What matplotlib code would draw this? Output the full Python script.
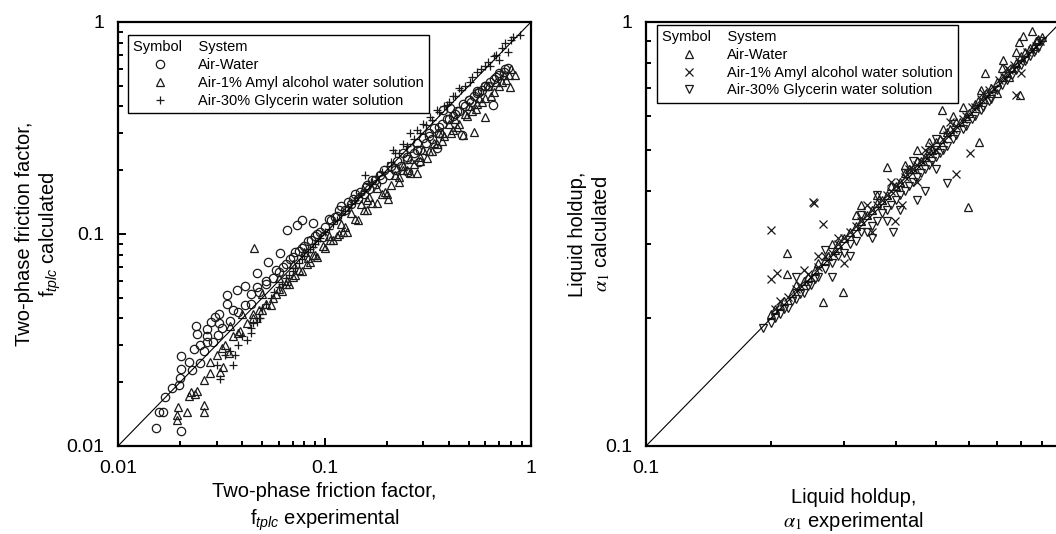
import matplotlib
matplotlib.use("Agg")
import matplotlib.pyplot as plt
import matplotlib.ticker as ticker

plt.rcParams['font.family'] = ['Liberation Sans', 'DejaVu Sans']
plt.rcParams['mathtext.fontset'] = 'custom'
plt.rcParams['mathtext.rm'] = 'Liberation Sans'
plt.rcParams['mathtext.it'] = 'Liberation Sans:italic'

# ---- left panel: two-phase friction factor (experimental, calculated)
aw_x = [0.0152, 0.0158, 0.0166, 0.0169, 0.0182, 0.0198, 0.0200, 0.0202, 0.0203, 0.0203,
        0.0227, 0.0233, 0.0239, 0.0240, 0.0249, 0.0269, 0.0271, 0.0281, 0.0295, 0.0305,
        0.0308, 0.0336, 0.0338, 0.0376, 0.0412, 0.0469, 0.0531, 0.0609, 0.022, 0.026,
        0.029, 0.032, 0.035, 0.038, 0.041, 0.044, 0.048, 0.052, 0.056, 0.060,
        0.065, 0.070, 0.075, 0.080, 0.086, 0.092, 0.100, 0.108, 0.115, 0.125,
        0.135, 0.145, 0.155, 0.165, 0.178, 0.190, 0.205, 0.220, 0.235, 0.250,
        0.270, 0.290, 0.310, 0.330, 0.360, 0.376, 0.404, 0.420, 0.450, 0.480,
        0.510, 0.546, 0.580, 0.635, 0.657, 0.702, 0.771, 0.462, 0.349, 0.288,
        0.255, 0.0656, 0.0774, 0.088, 0.0733, 0.098, 0.120, 0.140, 0.160,
        0.105, 0.112, 0.118, 0.130, 0.138, 0.148, 0.158, 0.170, 0.175, 0.185,
        0.195, 0.210, 0.225, 0.240, 0.260, 0.280, 0.300, 0.320, 0.340, 0.370,
        0.390, 0.430, 0.470, 0.500, 0.530, 0.560, 0.600, 0.620, 0.660, 0.700,
        0.740, 0.052, 0.058, 0.063, 0.068, 0.072, 0.078, 0.083, 0.090, 0.095,
        0.044, 0.047, 0.036, 0.031, 0.027, 0.025,
        0.220, 0.250, 0.280, 0.320, 0.360, 0.400, 0.440, 0.500, 0.550, 0.600,
        0.680, 0.750]
aw_y = [0.0122, 0.0145, 0.0145, 0.0171, 0.0188, 0.0195, 0.0209, 0.0266, 0.0232, 0.0118,
        0.0228, 0.0287, 0.0368, 0.0338, 0.0246, 0.0310, 0.0356, 0.0385, 0.0407, 0.0334,
        0.0420, 0.0470, 0.0515, 0.0544, 0.0570, 0.0657, 0.0740, 0.0816, 0.025, 0.028,
        0.031, 0.036, 0.039, 0.043, 0.046, 0.047, 0.053, 0.058, 0.062, 0.066,
        0.072, 0.078, 0.083, 0.088, 0.094, 0.100, 0.108, 0.116, 0.122, 0.130,
        0.138, 0.146, 0.155, 0.163, 0.172, 0.182, 0.190, 0.200, 0.210, 0.225,
        0.240, 0.250, 0.270, 0.280, 0.300, 0.385, 0.392, 0.360, 0.380, 0.400,
        0.420, 0.473, 0.480, 0.523, 0.406, 0.573, 0.605, 0.293, 0.254, 0.219,
        0.197, 0.1044, 0.1167, 0.1125, 0.110, 0.0972, 0.135, 0.155, 0.170,
        0.118, 0.120, 0.130, 0.142, 0.146, 0.158, 0.166, 0.180, 0.180, 0.190,
        0.200, 0.210, 0.220, 0.240, 0.255, 0.270, 0.285, 0.300, 0.315, 0.330,
        0.350, 0.370, 0.410, 0.430, 0.450, 0.470, 0.500, 0.500, 0.540, 0.560,
        0.580, 0.060, 0.068, 0.070, 0.076, 0.082, 0.086, 0.093, 0.098, 0.102,
        0.052, 0.056, 0.044, 0.038, 0.033, 0.030,
        0.205, 0.230, 0.250, 0.290, 0.320, 0.350, 0.380, 0.430, 0.460, 0.500,
        0.550, 0.600]

amyl_x = [0.0196, 0.0194, 0.0192, 0.0215, 0.0261, 0.0261, 0.022, 0.0235, 0.0225, 0.024,
          0.0311, 0.0324, 0.0346, 0.026, 0.028, 0.030, 0.033, 0.036, 0.039, 0.042,
          0.045, 0.048, 0.052, 0.056, 0.060, 0.065, 0.070, 0.075, 0.082, 0.090,
          0.098, 0.106, 0.115, 0.128, 0.146, 0.196, 0.204, 0.280, 0.313, 0.470,
          0.530, 0.599, 0.790, 0.837, 0.0456, 0.120, 0.135, 0.150, 0.165, 0.180,
          0.220, 0.240, 0.260, 0.300, 0.340, 0.370, 0.400, 0.430, 0.500, 0.560,
          0.620, 0.680, 0.740, 0.800, 0.060, 0.070, 0.080, 0.050, 0.040, 0.035,
          0.0835, 0.123,
          0.055, 0.058, 0.062, 0.067, 0.072, 0.078, 0.085, 0.092, 0.100, 0.110,
          0.118, 0.125, 0.140, 0.155, 0.170, 0.190, 0.210, 0.230, 0.250, 0.270,
          0.290, 0.320, 0.350, 0.380, 0.420, 0.450, 0.480, 0.520, 0.580, 0.640,
          0.700, 0.760, 0.045, 0.050, 0.038, 0.032, 0.028, 0.066, 0.088, 0.105,
          0.160, 0.240, 0.360, 0.550,
          0.160, 0.180, 0.200, 0.230, 0.260, 0.290, 0.330, 0.370, 0.410, 0.440,
          0.490, 0.540, 0.600, 0.660, 0.720, 0.780]
amyl_y = [0.0153, 0.0140, 0.01326, 0.0144, 0.0156, 0.0145, 0.0172, 0.0175, 0.0180, 0.0182,
          0.0224, 0.0237, 0.0274, 0.0205, 0.022, 0.027, 0.030, 0.033, 0.035, 0.038,
          0.042, 0.044, 0.047, 0.050, 0.055, 0.058, 0.063, 0.068, 0.072, 0.080,
          0.088, 0.094, 0.0977, 0.102, 0.116, 0.158, 0.147, 0.193, 0.228, 0.293,
          0.304, 0.357, 0.495, 0.562, 0.0859, 0.112, 0.125, 0.138, 0.150, 0.165,
          0.190, 0.210, 0.225, 0.250, 0.270, 0.300, 0.330, 0.350, 0.400, 0.440,
          0.500, 0.520, 0.560, 0.600, 0.062, 0.072, 0.082, 0.052, 0.042, 0.037,
          0.0768, 0.102,
          0.046, 0.052, 0.054, 0.058, 0.064, 0.067, 0.074, 0.078, 0.086, 0.094,
          0.100, 0.108, 0.118, 0.130, 0.140, 0.155, 0.170, 0.185, 0.200, 0.215,
          0.230, 0.245, 0.265, 0.290, 0.310, 0.330, 0.370, 0.380, 0.420, 0.450,
          0.500, 0.530, 0.040, 0.044, 0.034, 0.029, 0.025, 0.060, 0.080, 0.098,
          0.145, 0.200, 0.300, 0.410,
          0.130, 0.140, 0.155, 0.175, 0.195, 0.220, 0.245, 0.275, 0.300, 0.320,
          0.360, 0.390, 0.440, 0.470, 0.520, 0.560]

gly_x = [0.0311, 0.0362, 0.0368, 0.042, 0.0442, 0.0469, 0.0487, 0.030, 0.033, 0.040,
         0.045, 0.050, 0.055, 0.060, 0.065, 0.070, 0.075, 0.080, 0.085, 0.090,
         0.095, 0.100, 0.110, 0.120, 0.130, 0.140, 0.157, 0.150, 0.165, 0.180,
         0.200, 0.215, 0.220, 0.240, 0.260, 0.280, 0.300, 0.324, 0.350, 0.391,
         0.420, 0.450, 0.507, 0.550, 0.600, 0.635, 0.680, 0.771, 0.750, 0.820,
         0.880, 0.700,
         0.052, 0.057, 0.062, 0.067, 0.072, 0.078, 0.083, 0.088, 0.093, 0.105,
         0.115, 0.125, 0.135, 0.145, 0.155, 0.170, 0.190, 0.210, 0.230, 0.250,
         0.270, 0.290, 0.310, 0.330, 0.360, 0.380, 0.400, 0.430, 0.460, 0.480,
         0.520, 0.570, 0.620, 0.660, 0.720, 0.800, 0.035, 0.038, 0.044, 0.048]
gly_y = [0.0207, 0.0241, 0.0269, 0.0316, 0.0340, 0.0385, 0.0401, 0.024, 0.027, 0.033,
         0.038, 0.045, 0.050, 0.056, 0.062, 0.067, 0.073, 0.079, 0.085, 0.090,
         0.096, 0.102, 0.112, 0.123, 0.134, 0.145, 0.190, 0.156, 0.172, 0.188,
         0.210, 0.249, 0.240, 0.265, 0.299, 0.310, 0.330, 0.357, 0.385, 0.406,
         0.450, 0.490, 0.523, 0.580, 0.620, 0.620, 0.700, 0.719, 0.800, 0.850,
         0.870, 0.660,
         0.047, 0.053, 0.058, 0.064, 0.069, 0.076, 0.082, 0.087, 0.093, 0.106,
         0.117, 0.128, 0.139, 0.150, 0.160, 0.176, 0.197, 0.218, 0.240, 0.260,
         0.280, 0.300, 0.325, 0.345, 0.375, 0.400, 0.420, 0.450, 0.480, 0.500,
         0.550, 0.600, 0.650, 0.690, 0.750, 0.820, 0.028, 0.030, 0.036, 0.040]

# ---- right panel: liquid holdup (experimental, calculated)
haw_x = [0.219, 0.219, 0.2675, 0.298, 0.596, 0.380, 0.516, 0.636, 0.656, 0.797,
         0.726, 0.809, 0.790, 0.200, 0.210, 0.225, 0.240, 0.255, 0.270, 0.285,
         0.300, 0.320, 0.340, 0.360, 0.380, 0.400, 0.420, 0.440, 0.460, 0.480,
         0.500, 0.530, 0.560, 0.600, 0.630, 0.660, 0.700, 0.740, 0.780, 0.820,
         0.860, 0.880, 0.850, 0.330, 0.450, 0.550, 0.700, 0.750,
         0.205, 0.215, 0.230, 0.245, 0.260, 0.275, 0.290, 0.310, 0.330, 0.350,
         0.370, 0.390, 0.410, 0.430, 0.450, 0.470, 0.490, 0.510, 0.540, 0.570,
         0.590, 0.620, 0.650, 0.680, 0.720, 0.760, 0.800, 0.840, 0.870, 0.900,
         0.280, 0.320, 0.360, 0.420, 0.480, 0.520, 0.580, 0.640, 0.720, 0.780]
haw_y = [0.2857, 0.2545, 0.219, 0.231, 0.3655, 0.456, 0.620, 0.522, 0.757, 0.673,
         0.813, 0.927, 0.895, 0.205, 0.215, 0.230, 0.245, 0.260, 0.275, 0.290,
         0.310, 0.330, 0.350, 0.375, 0.390, 0.410, 0.440, 0.450, 0.470, 0.500,
         0.520, 0.550, 0.580, 0.610, 0.650, 0.680, 0.720, 0.760, 0.800, 0.850,
         0.880, 0.910, 0.950, 0.370, 0.500, 0.600, 0.680, 0.740,
         0.210, 0.220, 0.240, 0.250, 0.270, 0.280, 0.300, 0.320, 0.340, 0.360,
         0.380, 0.410, 0.420, 0.450, 0.470, 0.480, 0.500, 0.530, 0.560, 0.580,
         0.600, 0.640, 0.660, 0.700, 0.740, 0.780, 0.830, 0.870, 0.900, 0.920,
         0.300, 0.350, 0.390, 0.460, 0.520, 0.560, 0.630, 0.690, 0.780, 0.850]

hamyl_x = [0.1998, 0.1998, 0.2066, 0.2545, 0.2675, 0.413, 0.398, 0.2527, 0.6035, 0.558,
           0.780, 0.800, 0.210, 0.230, 0.250, 0.270, 0.290, 0.310, 0.330, 0.350,
           0.370, 0.390, 0.410, 0.430, 0.450, 0.470, 0.490, 0.520, 0.550, 0.580,
           0.610, 0.640, 0.670, 0.710, 0.750, 0.790, 0.830, 0.870, 0.300, 0.350,
           0.450, 0.260,
           0.205, 0.220, 0.235, 0.245, 0.260, 0.280, 0.300, 0.320, 0.340, 0.360,
           0.380, 0.400, 0.420, 0.440, 0.460, 0.480, 0.500, 0.530, 0.560, 0.590,
           0.620, 0.660, 0.690, 0.730, 0.770, 0.810, 0.850, 0.890, 0.240, 0.290,
           0.340, 0.390, 0.470, 0.540, 0.650, 0.740]
hamyl_y = [0.323, 0.2477, 0.2564, 0.3736, 0.334, 0.370, 0.339, 0.376, 0.490, 0.438,
           0.673, 0.757, 0.220, 0.235, 0.250, 0.280, 0.300, 0.320, 0.340, 0.360,
           0.380, 0.400, 0.420, 0.450, 0.460, 0.480, 0.510, 0.530, 0.560, 0.590,
           0.630, 0.660, 0.690, 0.730, 0.770, 0.810, 0.850, 0.880, 0.270, 0.320,
           0.420, 0.280,
           0.210, 0.225, 0.240, 0.255, 0.265, 0.285, 0.310, 0.330, 0.350, 0.370,
           0.390, 0.410, 0.430, 0.450, 0.470, 0.490, 0.500, 0.540, 0.570, 0.600,
           0.630, 0.670, 0.700, 0.740, 0.790, 0.820, 0.860, 0.900, 0.260, 0.310,
           0.370, 0.420, 0.500, 0.580, 0.680, 0.780]

hgly_x = [0.1918, 0.393, 0.530, 0.200, 0.210, 0.220, 0.230, 0.240, 0.250, 0.260,
          0.280, 0.300, 0.320, 0.340, 0.360, 0.380, 0.400, 0.420, 0.440, 0.460,
          0.480, 0.500, 0.520, 0.550, 0.580, 0.610, 0.640, 0.670, 0.700, 0.740,
          0.780, 0.820, 0.860, 0.900, 0.230, 0.270, 0.330, 0.440, 0.500,
          0.205, 0.215, 0.225, 0.235, 0.245, 0.255, 0.270, 0.290, 0.310, 0.330,
          0.350, 0.370, 0.390, 0.410, 0.430, 0.450, 0.470, 0.490, 0.510, 0.530,
          0.560, 0.590, 0.620, 0.650, 0.680, 0.720, 0.760, 0.800, 0.840, 0.880,
          0.280, 0.310, 0.350, 0.380, 0.410, 0.450, 0.500, 0.470, 0.420, 0.360]
hgly_y = [0.190, 0.319, 0.4165, 0.195, 0.205, 0.212, 0.222, 0.230, 0.240, 0.250,
          0.270, 0.285, 0.305, 0.320, 0.340, 0.360, 0.380, 0.400, 0.420, 0.440,
          0.460, 0.480, 0.500, 0.530, 0.560, 0.590, 0.620, 0.650, 0.690, 0.730,
          0.770, 0.810, 0.850, 0.900, 0.250, 0.290, 0.350, 0.470, 0.530,
          0.200, 0.210, 0.220, 0.228, 0.238, 0.248, 0.262, 0.280, 0.300, 0.320,
          0.330, 0.355, 0.370, 0.390, 0.410, 0.430, 0.450, 0.470, 0.490, 0.510,
          0.540, 0.570, 0.600, 0.630, 0.660, 0.710, 0.750, 0.790, 0.830, 0.870,
          0.250, 0.280, 0.310, 0.340, 0.360, 0.380, 0.450, 0.400, 0.440, 0.390]

labels = ['Air-Water', 'Air-1% Amyl alcohol water solution', 'Air-30% Glycerin water solution']

W, H = 1056, 534
fig = plt.figure(figsize=(W / 100, H / 100), dpi=100)
ax1 = fig.add_axes([118 / W, 88 / H, 413 / W, 424 / H])
ax2 = fig.add_axes([646 / W, 88 / H, 415 / W, 424 / H])

mk = dict(linestyle='none', markerfacecolor='none', markeredgecolor='#1a1a1a',
          markeredgewidth=0.9, markersize=6)

ax1.plot(aw_x, aw_y, marker='o', label=labels[0], **mk)
ax1.plot(amyl_x, amyl_y, marker='^', label=labels[1], **mk)
ax1.plot(gly_x, gly_y, marker='+', label=labels[2], **mk)
ax1.plot([0.01, 1], [0.01, 1], color='black', lw=0.8)
ax1.set_xlim(0.01, 1)
ax1.set_ylim(0.01, 1)

ax2.plot(haw_x, haw_y, marker='^', label=labels[0], **mk)
ax2.plot(hamyl_x, hamyl_y, marker='x', label=labels[1], **mk)
ax2.plot(hgly_x, hgly_y, marker='v', label=labels[2], **mk)
ax2.plot([0.1, 1], [0.1, 1], color='black', lw=0.8)
ax2.set_xlim(0.1, 1)
ax2.set_ylim(0.1, 1)

fmt = ticker.FuncFormatter(lambda v, _: f"{v:g}")
for ax in (ax1, ax2):
    ax.set_xscale('log')
    ax.set_yscale('log')
    ax.xaxis.set_major_formatter(fmt)
    ax.yaxis.set_major_formatter(fmt)
    ax.xaxis.set_minor_formatter(ticker.NullFormatter())
    ax.yaxis.set_minor_formatter(ticker.NullFormatter())
    ax.tick_params(which='both', direction='in', width=1.4, labelsize=14,
                   top=False, right=False)
    ax.tick_params(which='major', length=6)
    ax.tick_params(which='minor', length=3.5)
    ax.tick_params(axis='x', pad=10)
    ax.tick_params(axis='y', pad=10)
    for s in ax.spines.values():
        s.set_linewidth(1.6)
    leg = ax.legend(title="Symbol    System", loc='upper left', fontsize=10.5,
                    title_fontsize=10.5, alignment='left', frameon=True,
                    fancybox=False, edgecolor='black', framealpha=1,
                    handlelength=3.7, handletextpad=0.75, borderpad=0.35,
                    borderaxespad=0, labelspacing=0.26, numpoints=1,
                    bbox_to_anchor=(0.024, 0.969) if ax is ax1 else (0.0265, 0.993))
    leg.get_frame().set_linewidth(1.0)

# right panel: the "1" end of the x axis lies outside the picture
ax2.set_xticks([0.1])

ax1.set_xlabel("Two-phase friction factor,\nf$_{tplc}$ experimental", fontsize=14.5,
               labelpad=4, linespacing=1.35)
ax1.set_ylabel("Two-phase friction factor,\nf$_{tplc}$ calculated", fontsize=14.5,
               labelpad=2)
ax2.set_xlabel("Liquid holdup,\n$\\alpha_1$ experimental", fontsize=14.5, labelpad=8,
               math_fontfamily='stix')
ax2.set_ylabel("Liquid holdup,\n$\\alpha_1$ calculated", fontsize=14.5, labelpad=-5,
               math_fontfamily='stix')

fig.savefig('out.png', dpi=100)
